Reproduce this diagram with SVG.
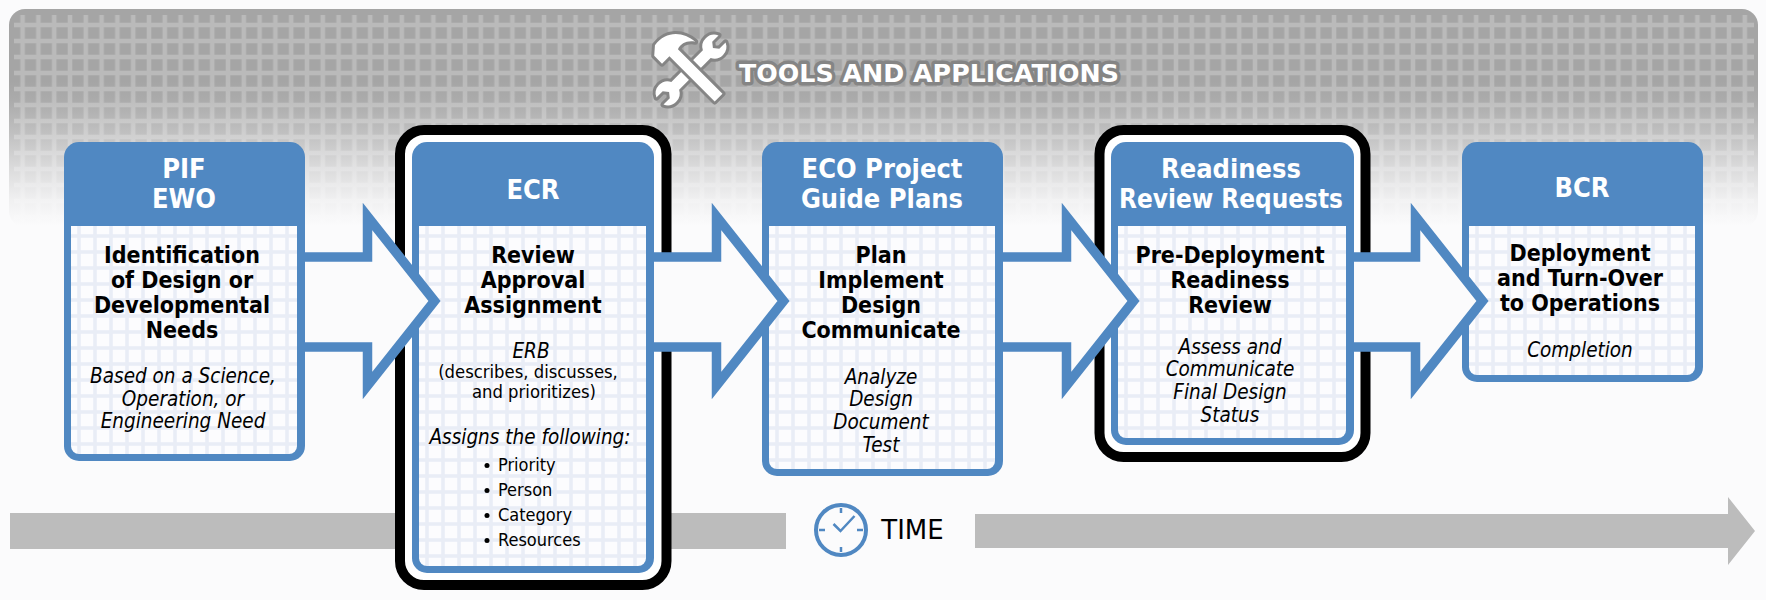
<svg xmlns="http://www.w3.org/2000/svg" width="1766" height="600" viewBox="0 0 1766 600">
<style>
text{font-family:"DejaVu Sans Condensed","DejaVu Sans",Verdana,sans-serif;font-stretch:condensed;text-anchor:middle;fill:#000}
.h{font-size:27px;font-weight:700;fill:#fff}
.b{font-size:23px;font-weight:700}
.i{font-size:20.500px;font-style:italic}
.r{font-size:18.300px}
.l{font-size:18px;text-anchor:start}
.w{font-family:"DejaVu Sans",Verdana,sans-serif;font-stretch:normal}
.node{fill:#5088c2}
.panel{fill:url(#cells)}
.frame{fill:#fff;stroke:#000;stroke-width:10}
.arrow{fill:#fbfbfc;stroke:#5088c2;stroke-width:9.500;stroke-miterlimit:10}
.bar{fill:#bcbcbc}
.halo{fill:#fff;stroke:#858585;stroke-width:6;paint-order:stroke;stroke-linejoin:round}
.tick{stroke:#5088c2;stroke-width:2.500;fill:none}
</style>
<defs>
<pattern id="cells" patternUnits="userSpaceOnUse" x="5" y="2" width="16" height="16">
<rect width="16" height="16" fill="#fcfcfe"/>
<path d="M0 10H16M10 0V16" stroke="#e9edf6" stroke-width="3.500" fill="none"/>
</pattern>
<pattern id="greygrid" patternUnits="userSpaceOnUse" x="14.700" y="17" width="15.800" height="16">
<path d="M0 8H15.800M7.900 0V16" stroke="#bababa" stroke-width="4.500" fill="none"/>
</pattern>
<linearGradient id="fade" gradientUnits="userSpaceOnUse" x1="0" y1="80" x2="0" y2="226">
<stop offset="0" stop-color="#fbfbfc" stop-opacity="0"/>
<stop offset=".14" stop-color="#fbfbfc" stop-opacity=".07"/>
<stop offset=".36" stop-color="#fbfbfc" stop-opacity=".31"/>
<stop offset=".6" stop-color="#fbfbfc" stop-opacity=".62"/>
<stop offset=".82" stop-color="#fbfbfc" stop-opacity=".87"/>
<stop offset="1" stop-color="#fbfbfc" stop-opacity="1"/>
</linearGradient>
</defs>
<rect width="1766" height="600" fill="#fbfbfc"/>
<g id="tools-band">
<rect x="9" y="9" width="1749" height="218" rx="16" fill="#a5a5a5"/>
<rect x="14" y="15" width="1740" height="212" fill="url(#greygrid)"/>
<rect x="5" y="80" width="1757" height="148" fill="url(#fade)"/>
<g id="tools-icon" class="halo">
<path transform="translate(691 70) rotate(45)" d="M-5-43.900V-35L0-31 5-35V-43.900A12 12 0 0 1 5.500-22.300V22.300A12 12 0 0 1 5 43.900V35L0 31-5 35V43.900A12 12 0 0 1-5.500 22.300V-22.300A12 12 0 0 1-5-43.900Z"/>
<path transform="translate(691 70) rotate(-45)" d="M-16-36V-25H-5.500V39H5.500V-24C12-26 18-24 23-17 22-33 10-46-8-43Z"/>
</g>
<text x="929" y="82" class="halo w" style="font-size:25.300px;font-weight:700;stroke-width:7">TOOLS AND APPLICATIONS</text>
</g>
<g id="time-axis">
<rect class="bar" x="10" y="513" width="776" height="36"/>
<path class="bar" d="M975 514H1728V497L1755 531 1728 565V548H975Z"/>
<circle cx="841" cy="530" r="25" fill="#fbfbfc" stroke="#5088c2" stroke-width="4"/>
<path class="tick" d="M841 508V513M841 547V552M819 530H825M857 530H863M833.500 524L840.500 531 854.500 516"/>
<text x="912.500" y="538.500" class="w" style="font-size:26px">TIME</text>
</g>
<g id="node-pif" transform="translate(64 0)">
<rect class="node" width="241" height="319" y="142" rx="15"/>
<path class="panel" d="M7 226H233V446a8 8 0 0 1-8 8H15a8 8 0 0 1-8-8Z"/>
<text class="h" x="120" y="178">PIF</text><text class="h" x="120" y="208">EWO</text>
<text class="b" x="118" y="262.500">Identification</text><text class="b" x="118" y="287.500">of Design or</text><text class="b" x="118" y="312.500">Developmental</text><text class="b" x="118" y="337.500">Needs</text>
<text class="i" x="119" y="382.500">Based on a Science,</text><text class="i" x="119" y="405.500">Operation, or</text><text class="i" x="119" y="427.500">Engineering Need</text>
</g>
<g id="node-ecr">
<rect class="frame" x="400" y="130" width="266.500" height="455" rx="24"/>
<g transform="translate(412 0)">
<rect class="node" width="242" height="431" y="142" rx="15"/>
<path class="panel" d="M7 226H234V558a8 8 0 0 1-8 8H15a8 8 0 0 1-8-8Z"/>
<text class="h" x="121" y="199">ECR</text>
<text class="b" x="121" y="262.500">Review</text><text class="b" x="121" y="287.500">Approval</text><text class="b" x="121" y="312.500">Assignment</text>
<text class="i" x="119" y="357.500">ERB</text>
<text class="r" x="116" y="378">(describes, discusses,</text><text class="r" x="122" y="398">and prioritizes)</text>
<text class="i" x="118" y="443.500">Assigns the following:</text>
<circle cx="75" cy="465.500" r="2.500"/><circle cx="75" cy="490.500" r="2.500"/><circle cx="75" cy="515.500" r="2.500"/><circle cx="75" cy="540.500" r="2.500"/>
<text class="l" x="86" y="471">Priority</text><text class="l" x="86" y="496">Person</text><text class="l" x="86" y="521">Category</text><text class="l" x="86" y="546">Resources</text>
</g>
</g>
<g id="node-eco" transform="translate(762 0)">
<rect class="node" width="241" height="334" y="142" rx="15"/>
<path class="panel" d="M7 226H233V461a8 8 0 0 1-8 8H15a8 8 0 0 1-8-8Z"/>
<text class="h" x="120" y="178">ECO Project</text><text class="h" x="120" y="208">Guide Plans</text>
<text class="b" x="119" y="262.500">Plan</text><text class="b" x="119" y="287.500">Implement</text><text class="b" x="119" y="312.500">Design</text><text class="b" x="119" y="337.500">Communicate</text>
<text class="i" x="119" y="383.500">Analyze</text><text class="i" x="119" y="405.500">Design</text><text class="i" x="119" y="428.500">Document</text><text class="i" x="119" y="451.500">Test</text>
</g>
<g id="node-readiness">
<rect class="frame" x="1099.500" y="130" width="266" height="327" rx="24"/>
<g transform="translate(1111 0)">
<rect class="node" width="243" height="303" y="142" rx="15"/>
<path class="panel" d="M7 226H235V430a8 8 0 0 1-8 8H15a8 8 0 0 1-8-8Z"/>
<text class="h" x="120" y="178">Readiness</text><text class="h" x="120" y="208" textLength="224" lengthAdjust="spacingAndGlyphs">Review Requests</text>
<text class="b" x="119" y="262.500">Pre-Deployment</text><text class="b" x="119" y="287.500">Readiness</text><text class="b" x="119" y="312.500">Review</text>
<text class="i" x="119" y="353.500">Assess and</text><text class="i" x="119" y="375.500">Communicate</text><text class="i" x="119" y="398.500">Final Design</text><text class="i" x="119" y="421.500">Status</text>
</g>
</g>
<g id="node-bcr" transform="translate(1462 0)">
<rect class="node" width="241" height="240" y="142" rx="15"/>
<path class="panel" d="M7 226H233V367a8 8 0 0 1-8 8H15a8 8 0 0 1-8-8Z"/>
<text class="h" x="120" y="197">BCR</text>
<text class="b" x="118" y="260.500">Deployment</text><text class="b" x="118" y="285.500">and Turn-Over</text><text class="b" x="118" y="310.500">to Operations</text>
<text class="i" x="118" y="356.500">Completion</text>
</g>
<g id="connectors">
<path class="arrow" d="M305 257H367.500V216.500L434.500 301 367.500 385.500V347H305"/>
<path class="arrow" d="M654 257H716.500V216.500L783.500 301 716.500 385.500V347H654"/>
<path class="arrow" d="M1003 257H1066.500V216.500L1133.500 301 1066.500 385.500V347H1003"/>
<path class="arrow" d="M1354 257H1415.500V216.500L1482.500 301 1415.500 385.500V347H1354"/>
</g>
</svg>
